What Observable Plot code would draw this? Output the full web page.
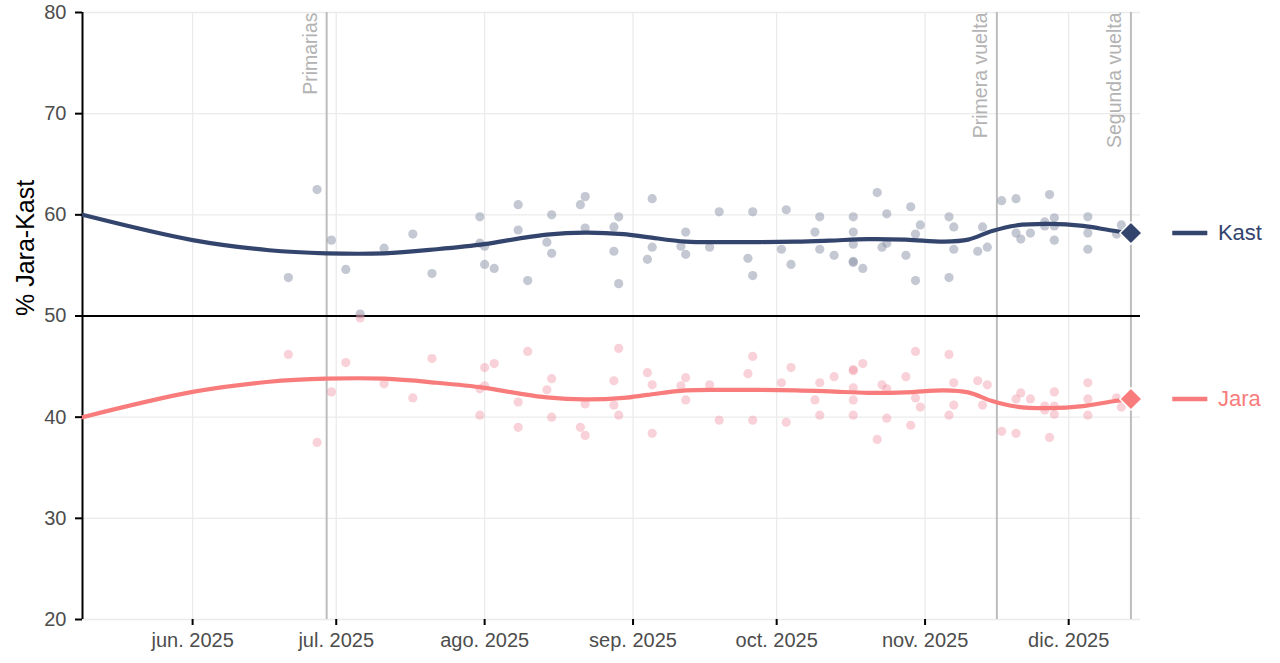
<!DOCTYPE html>
<html><head><meta charset="utf-8">
<script src="https://cdn.jsdelivr.net/npm/d3@7"></script>
<script src="https://cdn.jsdelivr.net/npm/@observablehq/plot@0.6"></script>
<style>body{margin:0;background:#fff;} #chart svg{display:block;}</style>
</head><body><div id="chart"></div>
<script>
// ---- Poll data ----
const pollDates = [
"2025-06-21","2025-06-27","2025-06-30","2025-07-03","2025-07-06","2025-07-11","2025-07-17","2025-07-21",
"2025-07-31","2025-07-31","2025-08-01","2025-08-01","2025-08-03","2025-08-08","2025-08-08","2025-08-10",
"2025-08-14","2025-08-15","2025-08-15","2025-08-21","2025-08-22","2025-08-22","2025-08-28","2025-08-29",
"2025-08-28","2025-08-29","2025-09-05","2025-09-05","2025-09-04","2025-09-12","2025-09-11","2025-09-12",
"2025-09-17","2025-09-19","2025-09-25","2025-09-26","2025-09-26","2025-10-02","2025-10-03","2025-10-04",
"2025-10-09","2025-10-10","2025-10-10","2025-10-13","2025-10-17","2025-10-17","2025-10-17","2025-10-17",
"2025-10-17","2025-10-19","2025-10-22","2025-10-24","2025-10-23","2025-10-24","2025-10-28","2025-10-29",
"2025-10-30","2025-10-31","2025-10-30","2025-11-06","2025-11-07","2025-11-07","2025-11-06","2025-11-12",
"2025-11-13","2025-11-14","2025-11-17","2025-11-20","2025-11-20","2025-11-21","2025-11-23","2025-11-26",
"2025-11-26","2025-11-27","2025-11-28","2025-11-28","2025-11-28","2025-12-05","2025-12-05","2025-12-05",
"2025-12-11","2025-12-12"
];
const kastPolls = [
53.8,62.5,57.5,54.6,50.2,56.7,58.1,54.2,
59.8,57.2,56.9,55.1,54.7,61.0,58.5,53.5,
57.3,60.0,56.2,61.0,61.8,58.7,58.8,59.8,
56.4,53.2,61.6,56.8,55.6,58.3,56.9,56.1,
56.8,60.3,55.7,60.3,54.0,56.6,60.5,55.1,
58.3,59.8,56.6,56.0,59.8,58.3,57.1,55.4,
55.3,54.7,62.2,60.1,56.8,57.2,56.0,60.8,
58.1,59.0,53.5,59.8,58.8,56.6,53.8,56.4,
58.8,56.8,61.4,61.6,58.2,57.6,58.2,59.3,
58.9,62.0,59.7,58.9,57.5,59.8,58.2,56.6,
58.1,59.0
];
const jaraPolls = [
46.2,37.5,42.5,45.4,49.8,43.3,41.9,45.8,
40.2,42.8,43.1,44.9,45.3,39.0,41.5,46.5,
42.7,40.0,43.8,39.0,38.2,41.3,41.2,40.2,
43.6,46.8,38.4,43.2,44.4,41.7,43.1,43.9,
43.2,39.7,44.3,39.7,46.0,43.4,39.5,44.9,
41.7,40.2,43.4,44.0,40.2,41.7,42.9,44.6,
44.7,45.3,37.8,39.9,43.2,42.8,44.0,39.2,
41.9,41.0,46.5,40.2,41.2,43.4,46.2,43.6,
41.2,43.2,38.6,38.4,41.8,42.4,41.8,40.7,
41.1,38.0,40.3,41.1,42.5,40.2,41.8,43.4,
41.9,41.0
];

// ---- Smoothed trend ----
const trendDates = ["2025-05-09","2025-06-01","2025-06-17","2025-06-29","2025-07-11",
"2025-07-22","2025-08-01","2025-08-08","2025-08-14","2025-08-22","2025-08-30","2025-09-04",
"2025-09-12","2025-09-21","2025-10-05","2025-10-12","2025-10-20","2025-10-28","2025-11-05",
"2025-11-10","2025-11-15","2025-11-20","2025-11-27","2025-12-04","2025-12-10","2025-12-14"];
const kastTrend = [60.0,57.5,56.5,56.2,56.2,56.6,57.1,57.65,58.05,58.25,58.1,57.8,
57.35,57.3,57.35,57.45,57.6,57.55,57.35,57.55,58.4,58.95,59.1,58.9,58.45,58.2];
const jaraTrend = [40.0,42.5,43.5,43.8,43.8,43.4,42.9,42.35,41.95,41.75,41.9,42.2,
42.65,42.7,42.65,42.55,42.4,42.45,42.65,42.45,41.6,41.05,40.9,41.1,41.55,41.8];

// ---- Results & events ----
const candidates = ["Kast","Jara"];
const resultDate = "2025-12-14";
const results = [58.2, 41.8];
const eventDates = ["2025-06-29","2025-11-16","2025-12-14"];
const eventLabels = ["Primarias","Primera vuelta","Segunda vuelta"];

// ---- Axes ----
const xDomain = ["2025-05-09","2025-12-16"];
const xTickDates = ["2025-06-01","2025-07-01","2025-08-01","2025-09-01","2025-10-01","2025-11-01","2025-12-01"];
const xTickLabels = ["jun. 2025","jul. 2025","ago. 2025","sep. 2025","oct. 2025","nov. 2025","dic. 2025"];
const yTicks = [20,30,40,50,60,70,80];

const kastColor = "#33446d";
const jaraColor = "#f87c7c";

const parse = d3.utcParse("%Y-%m-%d");
const offsetDays = (d, n) => new Date(+d + n * 864e5);
const kastData = pollDates.map((d,i)=>({date: parse(d), value: kastPolls[i]}));
const jaraData = pollDates.map((d,i)=>({date: parse(d), value: jaraPolls[i]}));
const kastLine = trendDates.map((d,i)=>({date: parse(d), value: kastTrend[i]}));
const jaraLine = trendDates.map((d,i)=>({date: parse(d), value: jaraTrend[i]}));
const kastFinal = [{date: parse(resultDate), value: results[0], name: candidates[0]}];
const jaraFinal = [{date: parse(resultDate), value: results[1], name: candidates[1]}];
const events = eventDates.map((d,i)=>({date: parse(d), label: eventLabels[i]}));
const xTicks = xTickDates.map(parse);
const tickLabel = new Map(xTicks.map((d,i)=>[+d, xTickLabels[i]]));
const x0 = parse(xDomain[0]);

const chart = Plot.plot({
  width: 1280, height: 663,
  marginLeft: 82, marginRight: 140, marginTop: 12, marginBottom: 44,
  style: {fontFamily: "'Liberation Sans', Arial, sans-serif", background: "#fff", overflow: "visible"},
  x: {type: "utc", domain: xDomain.map(parse)},
  y: {domain: [20, 80]},
  marks: [
    Plot.gridY(yTicks, {stroke: "#ebebeb", strokeOpacity: 1, strokeWidth: 1.3}),
    Plot.gridX(xTicks, {stroke: "#ebebeb", strokeOpacity: 1, strokeWidth: 1.3}),
    Plot.ruleX(events, {x: "date", stroke: "#bdbdbd", strokeWidth: 2}),
    Plot.text(events, {x: "date", y: 80, text: "label", rotate: -90, textAnchor: "end", lineAnchor: "bottom",
      dx: -10, fill: "#b3b3b3", fontSize: 19.5}),
    Plot.ruleY([50], {stroke: "black", strokeWidth: 2}),
    Plot.ruleX([x0], {y1: 20, y2: 80, stroke: "black", strokeWidth: 2}),
    Plot.dot(kastData, {x: "date", y: "value", r: 4.6, fill: "#8a92a5", fillOpacity: 0.5}),
    Plot.dot(jaraData, {x: "date", y: "value", r: 4.6, fill: "#f08a9c", fillOpacity: 0.38}),
    Plot.line(kastLine, {x: "date", y: "value", stroke: kastColor, strokeWidth: 4.2, curve: "catmull-rom"}),
    Plot.line(jaraLine, {x: "date", y: "value", stroke: jaraColor, strokeWidth: 4.2, curve: "catmull-rom"}),
    Plot.dot(kastFinal, {x: "date", y: "value", symbol: "diamond2", r: 10, fill: kastColor, stroke: "white", strokeWidth: 1.5}),
    Plot.dot(jaraFinal, {x: "date", y: "value", symbol: "diamond2", r: 10, fill: jaraColor, stroke: "white", strokeWidth: 1.5}),
    Plot.ruleY(kastFinal, {y: "value", x1: d => offsetDays(d.date, 8.74), x2: d => offsetDays(d.date, 16.06), stroke: kastColor, strokeWidth: 4.5}),
    Plot.ruleY(jaraFinal, {y: "value", x1: d => offsetDays(d.date, 8.74), x2: d => offsetDays(d.date, 16.06), stroke: jaraColor, strokeWidth: 4.5}),
    Plot.text(kastFinal, {x: "date", y: "value", text: "name", dx: 87, textAnchor: "start", fill: kastColor, fontSize: 22}),
    Plot.text(jaraFinal, {x: "date", y: "value", text: "name", dx: 87, textAnchor: "start", fill: jaraColor, fontSize: 22}),
    Plot.axisY({ticks: yTicks, tickSize: 7, tickPadding: 9, fontSize: 20, fill: "#4d4d4d", stroke: "black", strokeWidth: 2, label: null}),
    Plot.axisX({ticks: xTicks, tickFormat: d => tickLabel.get(+d), tickSize: 6, tickPadding: 7, fontSize: 20,
      fill: "#4d4d4d", stroke: "black", strokeWidth: 2, label: null}),
    Plot.text(["% Jara-Kast"], {frameAnchor: "left", rotate: -90, dx: -49, lineAnchor: "bottom", fontSize: 25, fill: "black"})
  ]
});
document.getElementById("chart").append(chart);
</script>
</body></html>
